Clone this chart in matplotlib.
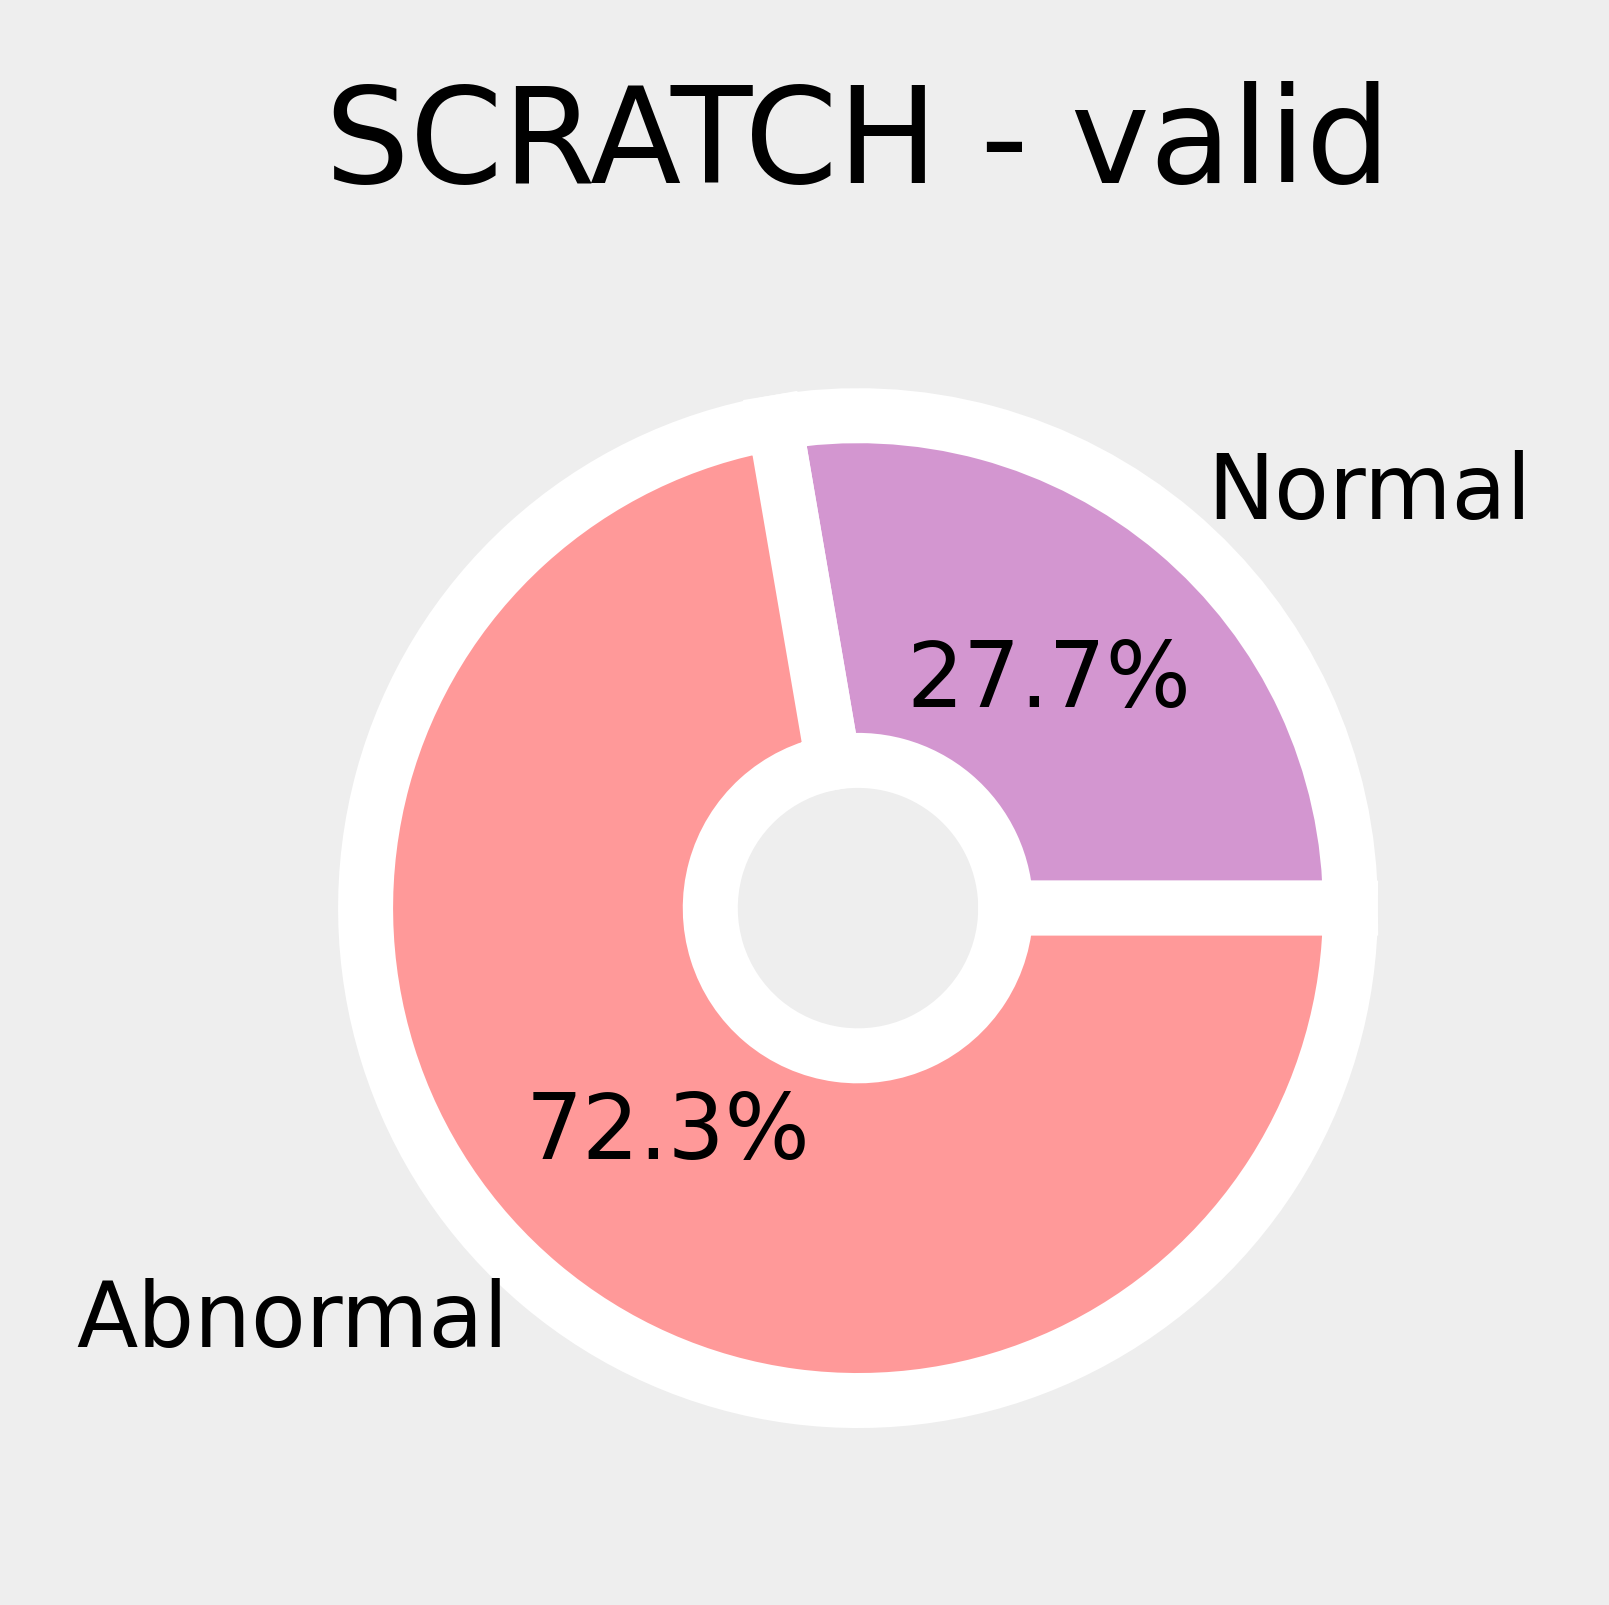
"""Donut chart of label balance for the SCRATCH validation split."""
import matplotlib

matplotlib.use("Agg")
import matplotlib.pyplot as plt

LABELS = ["Normal", "Abnormal"]
SHARES = [27.7, 72.3]
COLORS = ["#d396d0", "#ff9999"]
TITLE = "SCRATCH - valid"

BG = "#eeeeee"


def main() -> None:
    fig = plt.figure(figsize=(16.09, 16.05), dpi=100, facecolor=BG)
    ax = fig.add_axes([0.1507, 0.0507, 0.7651, 0.767])
    ax.set_facecolor(BG)

    ax.pie(
        SHARES,
        labels=LABELS,
        colors=COLORS,
        autopct="%1.1f%%",
        startangle=0,
        pctdistance=0.6,
        labeldistance=1.1,
        wedgeprops=dict(width=0.7, edgecolor="white", linewidth=39.6),
        textprops=dict(fontsize=64.5, color="black"),
    )
    ax.set_xlim(-1.25, 1.25)
    ax.set_ylim(-1.25, 1.25)
    ax.set_aspect("equal")
    ax.axis("off")

    fig.text(0.533, 0.886, TITLE, ha="center", va="baseline", fontsize=96)

    fig.savefig("out.png", dpi=100, facecolor=BG)
    plt.close(fig)


if __name__ == "__main__":
    main()
